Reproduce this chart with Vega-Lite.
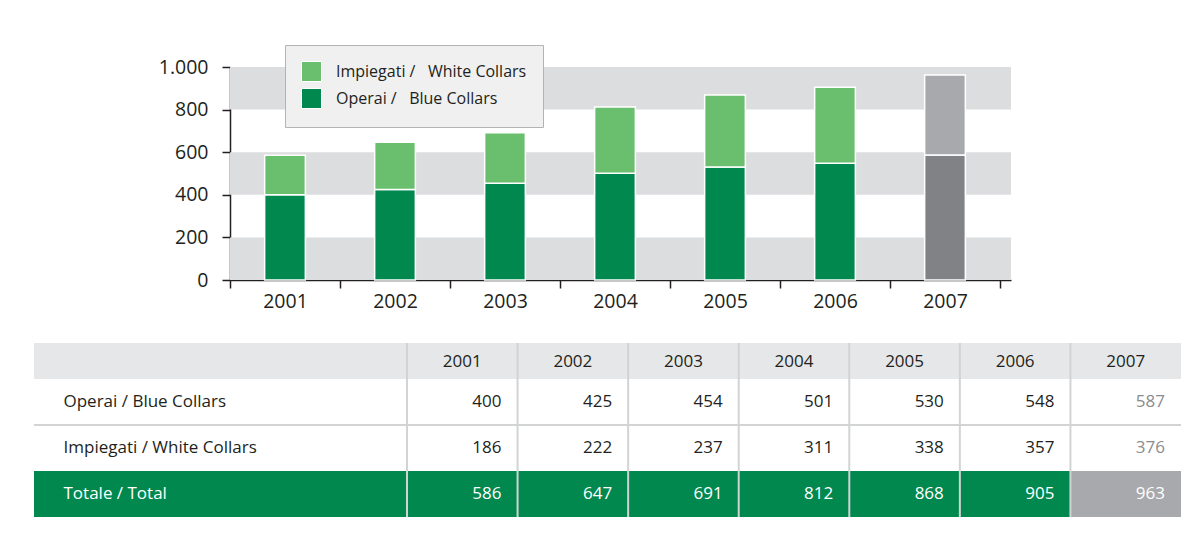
{
  "$schema": "https://vega.github.io/schema/vega-lite/v6.json",
  "padding": {"left": 33, "top": 44, "right": 0, "bottom": 0},
  "background": "white",
  "config": {"font": "Open Sans", "view": {"stroke": null}},
  "datasets": {
    "emp": [
      {"year": "2001", "group": "Operai", "label": "Operai / Blue Collars", "value": 400},
      {"year": "2001", "group": "Impiegati", "label": "Impiegati / White Collars", "value": 186},
      {"year": "2001", "group": "Totale", "label": "Totale / Total", "value": 586},
      {"year": "2002", "group": "Operai", "label": "Operai / Blue Collars", "value": 425},
      {"year": "2002", "group": "Impiegati", "label": "Impiegati / White Collars", "value": 222},
      {"year": "2002", "group": "Totale", "label": "Totale / Total", "value": 647},
      {"year": "2003", "group": "Operai", "label": "Operai / Blue Collars", "value": 454},
      {"year": "2003", "group": "Impiegati", "label": "Impiegati / White Collars", "value": 237},
      {"year": "2003", "group": "Totale", "label": "Totale / Total", "value": 691},
      {"year": "2004", "group": "Operai", "label": "Operai / Blue Collars", "value": 501},
      {"year": "2004", "group": "Impiegati", "label": "Impiegati / White Collars", "value": 311},
      {"year": "2004", "group": "Totale", "label": "Totale / Total", "value": 812},
      {"year": "2005", "group": "Operai", "label": "Operai / Blue Collars", "value": 530},
      {"year": "2005", "group": "Impiegati", "label": "Impiegati / White Collars", "value": 338},
      {"year": "2005", "group": "Totale", "label": "Totale / Total", "value": 868},
      {"year": "2006", "group": "Operai", "label": "Operai / Blue Collars", "value": 548},
      {"year": "2006", "group": "Impiegati", "label": "Impiegati / White Collars", "value": 357},
      {"year": "2006", "group": "Totale", "label": "Totale / Total", "value": 905},
      {"year": "2007", "group": "Operai", "label": "Operai / Blue Collars", "value": 587},
      {"year": "2007", "group": "Impiegati", "label": "Impiegati / White Collars", "value": 376},
      {"year": "2007", "group": "Totale", "label": "Totale / Total", "value": 963}
    ],
    "bands": [
      {"lo": 0, "hi": 200},
      {"lo": 400, "hi": 600},
      {"lo": 800, "hi": 1000}
    ]
  },
  "spacing": 31,
  "bounds": "full",
  "resolve": {"scale": {"color": "independent"}, "legend": {"color": "independent"}},
  "vconcat": [
    {
      "spacing": 0,
      "bounds": "flush",
      "resolve": {"scale": {"color": "independent"}, "legend": {"color": "independent"}},
      "hconcat": [
        {
          "width": 196,
          "height": 213,
          "data": {"values": [{}]},
          "mark": {"type": "text", "text": ""},
          "encoding": {}
        },
        {
          "width": 781,
          "height": 213,
          "layer": [
            {
              "data": {"name": "bands"},
              "mark": {"type": "rect", "color": "#dcdddf"},
              "encoding": {
                "y": {
                  "field": "lo", "type": "quantitative", "scale": {"domain": [0, 1000], "nice": false},
                  "axis": {
                    "title": null, "values": [0, 200, 400, 600, 800, 1000], "grid": false,
                    "labelExpr": "replace(format(datum.value, ','), ',', '.')",
                    "domainColor": "#231f20", "domainWidth": 1.5,
                    "tickColor": "#231f20", "tickWidth": 1.5, "tickSize": 8,
                    "labelFontSize": 19.5, "labelColor": "#231f20", "labelPadding": 14
                  }
                },
                "y2": {"field": "hi"}
              }
            },
            {
              "data": {"name": "emp"},
              "transform": [{"filter": "datum.group != 'Totale'"}],
              "mark": {"type": "bar", "width": {"band": 0.37}, "stroke": "white", "strokeWidth": 1.5},
              "encoding": {
                "x": {
                  "field": "year", "type": "ordinal",
                  "scale": {"paddingInner": 0, "paddingOuter": 0.05, "align": 0},
                  "axis": {
                    "title": null, "labelAngle": 0, "tickBand": "extent", "grid": false,
                    "domainColor": "#231f20", "domainWidth": 1.5,
                    "tickColor": "#231f20", "tickWidth": 1.5, "tickSize": 8,
                    "labelFontSize": 19.5, "labelColor": "#231f20", "labelPadding": 4
                  }
                },
                "y": {
                  "field": "value", "type": "quantitative", "stack": "zero",
                  "axis": {
                    "title": null, "values": [0, 200, 400, 600, 800, 1000], "grid": false,
                    "labelExpr": "replace(format(datum.value, ','), ',', '.')",
                    "domainColor": "#231f20", "domainWidth": 1.5,
                    "tickColor": "#231f20", "tickWidth": 1.5, "tickSize": 8,
                    "labelFontSize": 19.5, "labelColor": "#231f20", "labelPadding": 14
                  }
                },
                "order": {"field": "group", "sort": "descending"},
                "color": {
                  "condition": [
                    {"test": "datum.year == '2007' && datum.group == 'Operai'", "value": "#808285"},
                    {"test": "datum.year == '2007'", "value": "#a7a9ac"}
                  ],
                  "field": "group", "type": "nominal",
                  "scale": {"domain": ["Impiegati", "Operai"], "range": ["#6abf6e", "#00884f"]},
                  "legend": {
                    "title": null, "orient": "none", "legendX": 55, "legendY": -22,
                    "direction": "vertical",
                    "fillColor": "#f0f0f1", "strokeColor": "#b3b3b3",
                    "padding": 16, "symbolType": "square", "symbolSize": 400,
                    "symbolStrokeColor": "white", "symbolStrokeWidth": 1, "symbolOpacity": 1,
                    "rowPadding": 2, "labelFontSize": 16, "labelColor": "#231f20", "labelOffset": 14,
                    "labelLimit": 400,
                    "labelExpr": "datum.value == 'Impiegati' ? 'Impiegati /\u00a0\u00a0 White Collars' : 'Operai /\u00a0\u00a0 Blue Collars'"
                  }
                }
              }
            }
          ]
        }
      ]
    },
    {
      "spacing": 0,
      "bounds": "flush",
      "vconcat": [
        {
          "width": 1147,
          "height": 36,
          "view": {"fill": "#e6e7e8", "stroke": null},
          "data": {"name": "emp"},
          "transform": [{"filter": "datum.group == 'Operai'"}],
          "layer": [
            {
              "mark": {"type": "rule", "color": "#d1d3d4", "strokeWidth": 2},
              "encoding": {
                "x": {"field": "year", "type": "ordinal", "bandPosition": 0,
                      "scale": {"range": [373, 1147], "paddingInner": 0, "paddingOuter": 0}, "axis": null}
              }
            },
            {
              "mark": {"type": "text", "fontSize": 17, "color": "#231f20", "dy": 1},
              "encoding": {
                "x": {"field": "year", "type": "ordinal", "axis": null},
                "text": {"field": "year"}
              }
            }
          ]
        },
        {
          "width": 1147,
          "height": 138,
          "data": {"name": "emp"},
          "layer": [
            {
              "transform": [{"filter": "datum.group == 'Totale' && datum.year == '2001'"}],
              "mark": {"type": "rect", "color": "#00884f"},
              "encoding": {
                "y": {
                  "field": "label", "type": "nominal",
                  "scale": {"domain": ["Operai / Blue Collars", "Impiegati / White Collars", "Totale / Total"], "paddingInner": 0, "paddingOuter": 0},
                  "axis": {
                    "title": null, "orient": "left", "ticks": false, "domain": false,
                    "labelAlign": "left", "labelPadding": -29, "labelFontSize": 17, "labelLimit": 400,
                    "labelColor": {"condition": {"test": "datum.value == 'Totale / Total'", "value": "white"}, "value": "#231f20"},
                    "zindex": 1
                  }
                }
              }
            },
            {
              "transform": [{"filter": "datum.group == 'Totale' && datum.year == '2007'"}],
              "mark": {"type": "rect", "color": "#a7a9ac"},
              "encoding": {
                "x": {"field": "year", "type": "ordinal", "axis": null,
                      "scale": {"domain": ["2001", "2002", "2003", "2004", "2005", "2006", "2007"], "range": [373, 1147], "paddingInner": 0, "paddingOuter": 0}},
                "y": {
                  "field": "label", "type": "nominal",
                  "axis": {
                    "title": null, "orient": "left", "ticks": false, "domain": false,
                    "labelAlign": "left", "labelPadding": -29, "labelFontSize": 17, "labelLimit": 400,
                    "labelColor": {"condition": {"test": "datum.value == 'Totale / Total'", "value": "white"}, "value": "#231f20"},
                    "zindex": 1
                  }
                }
              }
            },
            {
              "transform": [{"filter": "datum.group == 'Impiegati' && datum.year == '2001'"}],
              "mark": {"type": "rule", "color": "#d1d3d4", "strokeWidth": 2},
              "encoding": {
                "y": {
                  "field": "label", "type": "nominal", "bandPosition": 0,
                  "axis": {
                    "title": null, "orient": "left", "ticks": false, "domain": false,
                    "labelAlign": "left", "labelPadding": -29, "labelFontSize": 17, "labelLimit": 400,
                    "labelColor": {"condition": {"test": "datum.value == 'Totale / Total'", "value": "white"}, "value": "#231f20"},
                    "zindex": 1
                  }
                }
              }
            },
            {
              "transform": [{"filter": "datum.group == 'Operai'"}],
              "mark": {"type": "rule", "color": "#d1d3d4", "strokeWidth": 2},
              "encoding": {
                "x": {"field": "year", "type": "ordinal", "bandPosition": 0, "axis": null}
              }
            },
            {
              "mark": {"type": "text", "align": "right", "fontSize": 17},
              "encoding": {
                "x": {"field": "year", "type": "ordinal", "bandPosition": 0.855, "axis": null},
                "y": {
                  "field": "label", "type": "nominal",
                  "axis": {
                    "title": null, "orient": "left", "ticks": false, "domain": false,
                    "labelAlign": "left", "labelPadding": -29, "labelFontSize": 17, "labelLimit": 400,
                    "labelColor": {"condition": {"test": "datum.value == 'Totale / Total'", "value": "white"}, "value": "#231f20"},
                    "zindex": 1
                  }
                },
                "text": {"field": "value"},
                "color": {
                  "condition": [
                    {"test": "datum.group == 'Totale'", "value": "white"},
                    {"test": "datum.year == '2007'", "value": "#8a8c8f"}
                  ],
                  "value": "#231f20"
                }
              }
            }
          ]
        }
      ]
    }
  ]
}
